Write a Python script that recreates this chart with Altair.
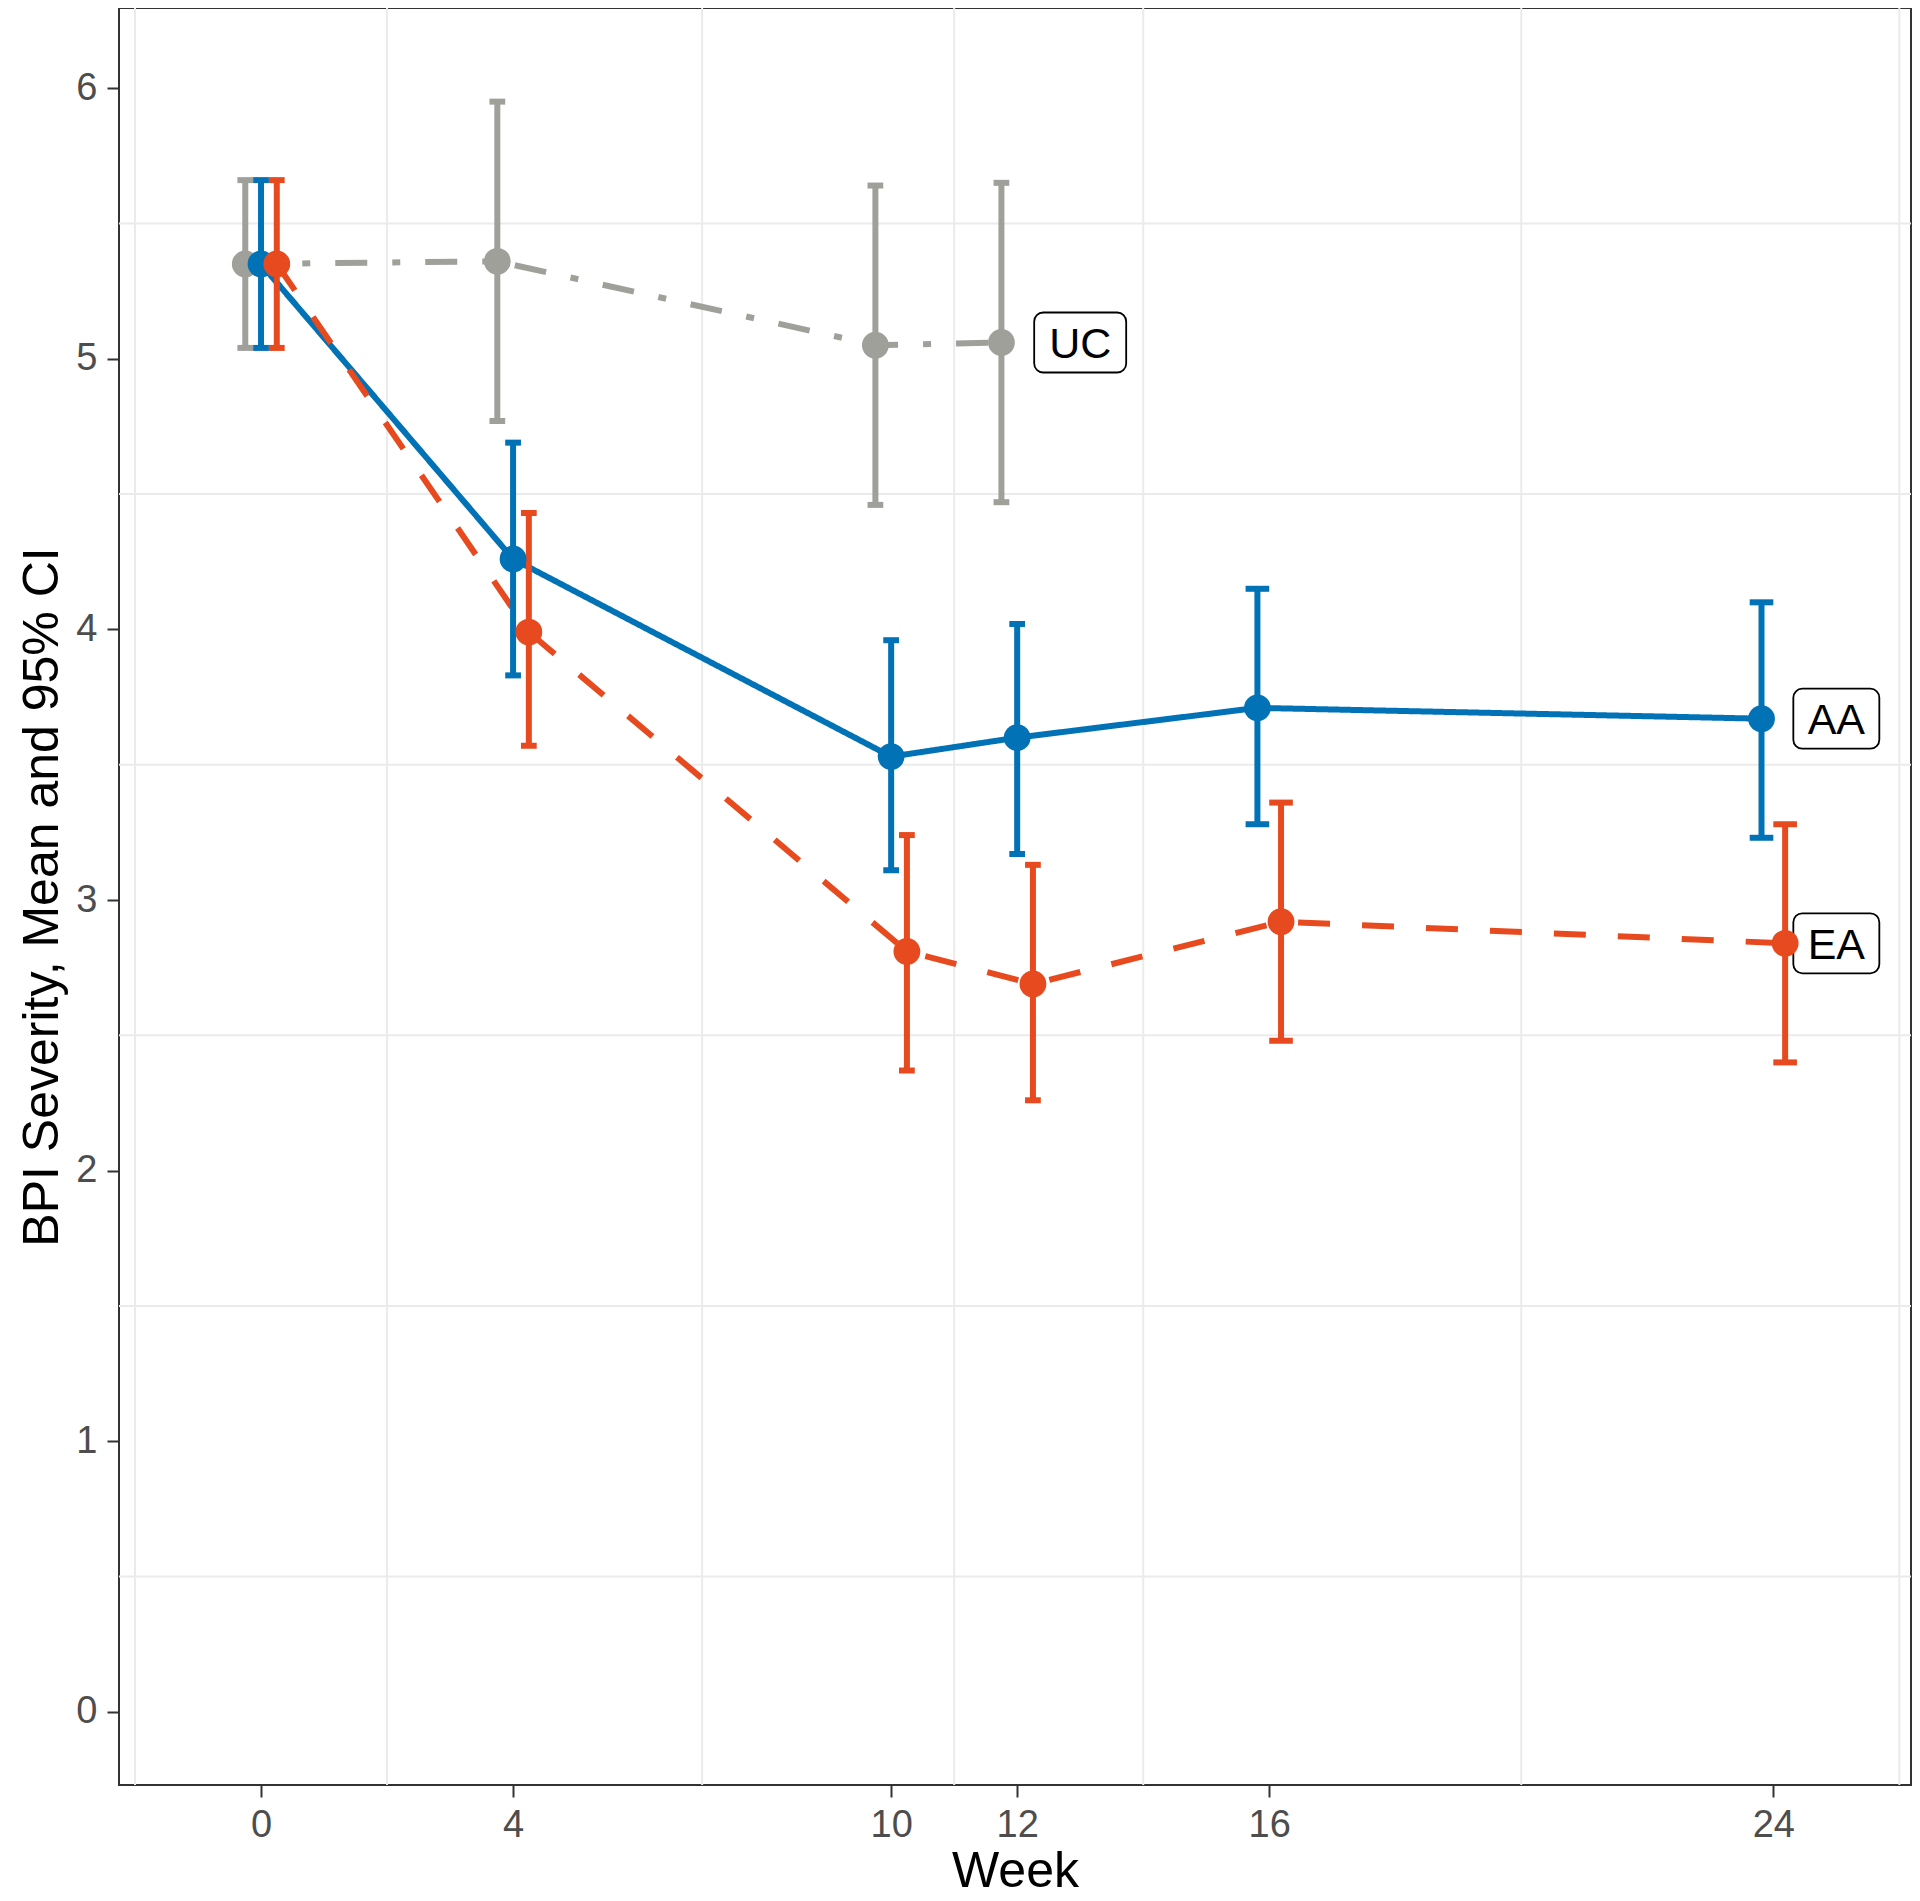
import altair as alt
import pandas as pd

# ---- data ----
groups = ["UC", "AA", "EA"]
colors = ["#A0A09B", "#0072B5", "#E64A1E"]
dashes = [[32, 25, 8, 25], [1, 0], [32, 32]]

weeks_uc = [0, 4, 10, 12]
uc_mean = [5.35, 5.36, 5.05, 5.06]
uc_lo = [5.04, 4.77, 4.46, 4.47]
uc_hi = [5.66, 5.95, 5.64, 5.65]

weeks_aa = [0, 4, 10, 12, 16, 24]
aa_mean = [5.35, 4.26, 3.53, 3.60, 3.71, 3.67]
aa_lo = [5.04, 3.83, 3.11, 3.17, 3.28, 3.23]
aa_hi = [5.66, 4.69, 3.96, 4.02, 4.15, 4.10]

weeks_ea = [0, 4, 10, 12, 16, 24]
ea_mean = [5.35, 3.99, 2.81, 2.69, 2.92, 2.84]
ea_lo = [5.04, 3.57, 2.37, 2.26, 2.48, 2.40]
ea_hi = [5.66, 4.43, 3.24, 3.13, 3.36, 3.28]

x_ticks = [0, 4, 10, 12, 16, 24]
y_ticks = [0, 1, 2, 3, 4, 5, 6]
x_minor = [-2, 2, 7, 11, 14, 20, 26]
y_minor = [0.5, 1.5, 2.5, 3.5, 4.5, 5.5]
dodge_width = 0.75

series = {
    "UC": (weeks_uc, uc_mean, uc_lo, uc_hi),
    "AA": (weeks_aa, aa_mean, aa_lo, aa_hi),
    "EA": (weeks_ea, ea_mean, ea_lo, ea_hi),
}

rows = []
for g in groups:
    w, m, lo, hi = series[g]
    for i, wk in enumerate(w):
        present = [h for h in groups if wk in series[h][0]]
        n = len(present)
        k = present.index(g)
        off = (k - (n - 1) / 2) * dodge_width / n
        half = dodge_width / n / 2
        rows.append(dict(group=g, week=wk, xd=wk + off, mean=m[i], lo=lo[i], hi=hi[i],
                         cl=wk + off - half, cr=wk + off + half))
df = pd.DataFrame(rows)

lab = pd.DataFrame([
    dict(group=g, lx=series[g][0][-1] + 1, ly=series[g][1][-1]) for g in groups
])

# ---- scales / axes ----
xscale = alt.Scale(domain=[-2.254, 26.185], nice=False, zero=False)
yscale = alt.Scale(domain=[-0.270, 6.296], nice=False, zero=False)
cscale = alt.Scale(domain=groups, range=colors)

x_axis = alt.Axis(values=x_ticks, title="Week", grid=False, domain=False,
                  tickSize=12, tickWidth=2, tickColor="#333333",
                  labelFontSize=38, labelColor="#4D4D4D", labelPadding=9,
                  labelFlush=False, labelOverlap=False,
                  titleFontSize=50, titleFontWeight="normal", titleColor="#000000",
                  titleBaseline="alphabetic", titleY=101)
y_axis = alt.Axis(values=y_ticks, title="BPI Severity, Mean and 95% CI", grid=False, domain=False,
                  tickSize=12, tickWidth=2, tickColor="#333333",
                  labelFontSize=38, labelColor="#4D4D4D", labelPadding=10,
                  labelFlush=False, labelOverlap=False,
                  titleFontSize=50, titleFontWeight="normal", titleColor="#000000",
                  titleBaseline="alphabetic", titleX=-62, titleAngle=270)


def X(f):
    return alt.X(f, type="quantitative", scale=xscale, axis=x_axis)


def Y(f):
    return alt.Y(f, type="quantitative", scale=yscale, axis=y_axis)


col = alt.Color("group:N", scale=cscale, legend=None)

# ---- grid ----
vgrid = alt.Chart(pd.DataFrame({"v": x_minor})).mark_rule(color="#EBEBEB", strokeWidth=2).encode(x=X("v"))
hgrid = alt.Chart(pd.DataFrame({"v": y_minor})).mark_rule(color="#EBEBEB", strokeWidth=2).encode(y=Y("v"))

base = alt.Chart(df)

lines = []
for g, c, d in zip(groups, colors, dashes):
    lines.append(
        base.transform_filter(alt.datum.group == g)
        .mark_line(color=c, strokeWidth=6, strokeDash=d, strokeCap="butt")
        .encode(x=X("xd"), y=Y("mean"), order="week:Q")
    )

ebar = base.mark_rule(strokeWidth=6, strokeCap="butt").encode(x=X("xd"), y=Y("lo"), y2="hi", color=col)
cap_hi = base.mark_rule(strokeWidth=6, strokeCap="butt").encode(x=X("cl"), x2="cr", y=Y("hi"), color=col)
cap_lo = base.mark_rule(strokeWidth=6, strokeCap="butt").encode(x=X("cl"), x2="cr", y=Y("lo"), color=col)

# ---- labels ----
labbase = alt.Chart(lab)
box_uc = labbase.transform_filter(alt.datum.group == "UC").mark_rect(
    fill="white", stroke="black", strokeWidth=1.8, cornerRadius=9,
    xOffset=-46, x2Offset=46, yOffset=-30, y2Offset=30
).encode(x=X("lx"), x2="lx", y=Y("ly"), y2="ly")
box_other = labbase.transform_filter(alt.datum.group != "UC").mark_rect(
    fill="white", stroke="black", strokeWidth=1.8, cornerRadius=9,
    xOffset=-43, x2Offset=43, yOffset=-30, y2Offset=30
).encode(x=X("lx"), x2="lx", y=Y("ly"), y2="ly")
labtext = labbase.mark_text(fontSize=43, color="black", align="center", baseline="alphabetic", dy=15.5).encode(
    x=X("lx"), y=Y("ly"), text="group:N"
)

points = base.mark_circle(size=720, opacity=1).encode(x=X("xd"), y=Y("mean"), color=col)

chart = alt.layer(
    vgrid, hgrid, *lines, ebar, cap_hi, cap_lo, box_uc, box_other, labtext, points
).properties(
    width=1792, height=1777,
    autosize=alt.AutoSizeParams(type="none"),
    padding={"left": 111, "top": 0, "right": 1, "bottom": 102},
).configure(font="Liberation Sans").configure_view(stroke="#333333", strokeWidth=2)

chart.save("out.html", embed_options={"renderer": "svg", "actions": False})
